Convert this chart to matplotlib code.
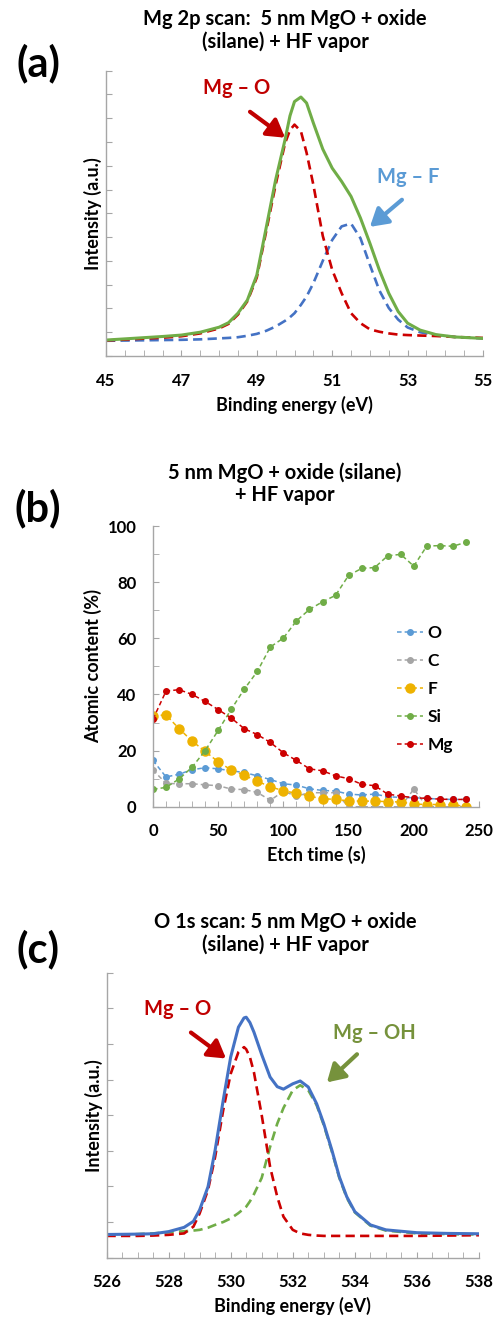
import matplotlib
matplotlib.use("Agg")
import matplotlib.pyplot as plt

plt.rcParams['font.family'] = ['Lato', 'DejaVu Sans']
plt.rcParams['font.weight'] = 'bold'
plt.rcParams['axes.labelweight'] = 'bold'

# ---- panel (a): Mg 2p scan ----
mg2p_energy = [45, 46, 46.5, 47, 47.5, 48, 48.25, 48.5, 48.75, 49.0, 49.25, 49.5,
               49.75, 49.88, 50.0, 50.17, 50.32, 50.5, 50.75, 51.0, 51.25, 51.5,
               51.75, 52.0, 52.25, 52.5, 52.75, 53.0, 53.33, 53.75, 54.25, 55]
mg2p_total = [0.67, 0.77, 0.82, 0.88, 1.0, 1.21, 1.4, 1.8, 2.35, 3.4, 5.4, 7.41,
              9.1, 10.1, 10.7, 10.89, 10.64, 9.8, 8.7, 7.9, 7.34, 6.71,
              5.8, 4.74, 3.62, 2.64, 1.87, 1.38, 1.09, 0.9, 0.8, 0.74]
mg2p_mgo = [0.65, 0.73, 0.77, 0.83, 0.95, 1.16, 1.35, 1.74, 2.3, 3.3, 5.25, 7.2,
            8.95, 9.5, 9.73, 9.45, 8.55, 7.2, 5.05, 3.62, 2.64, 1.8,
            1.38, 1.12, 1.02, 0.95, 0.9, 0.88, 0.86, 0.84, 0.8, 0.76]
mg2p_mgf = [0.64, 0.66, 0.67, 0.68, 0.70, 0.74, 0.76, 0.79, 0.85, 0.93, 1.06, 1.24,
            1.48, 1.63, 1.8, 2.15, 2.5, 3.06, 4.0, 4.88, 5.45, 5.57,
            4.95, 3.83, 2.76, 2.02, 1.53, 1.2, 1.0, 0.88, 0.8, 0.74]

# ---- panel (b): depth profile ----
etch_time = [0, 10, 20, 30, 40, 50, 60, 70, 80, 90, 100, 110, 120,
             130, 140, 150, 160, 170, 180, 190, 200, 210, 220, 230, 240]
o_pct = [16.5, 10.6, 11.6, 13.2, 13.9, 13.5, 12.8, 12.2, 11.0, 9.7, 8.2, 7.7, 6.4,
         5.8, 5.6, 4.5, 4.2, 4.5, 3.6, 3.3, 3.2, 3.0, 2.7, 2.6, 2.6]
c_pct = [13.1, 8.3, 8.2, 8.2, 7.8, 7.5, 6.3, 6.1, 5.1, 2.3, 5.5, 3.8, 5.0,
         5.0, 5.0, 0, 0, 0, 0, 0, 6.3, 0, 0, 0, 0]
f_pct = [32.4, 32.7, 27.8, 23.4, 19.7, 16.0, 13.1, 11.2, 9.1, 7.1, 5.7, 4.8, 3.7,
         2.9, 2.6, 2.1, 2.0, 2.0, 1.8, 1.7, 0.95, 0.8, 0.8, 0.8, 0.0]
si_pct = [6.2, 6.9, 9.9, 14.1, 20.0, 27.2, 34.7, 41.9, 48.2, 56.9, 60.1, 66.2, 70.3,
          73.0, 75.3, 82.4, 84.9, 85.2, 89.4, 89.9, 85.7, 92.9, 93.0, 92.8, 94.2]
mg_pct = [31.2, 41.2, 41.7, 40.0, 37.5, 34.6, 31.6, 27.8, 25.7, 22.9, 19.2, 16.5, 13.5,
          12.8, 11.0, 10.0, 8.0, 7.5, 4.5, 3.8, 3.2, 3.0, 2.7, 2.6, 2.6]

# ---- panel (c): O 1s scan ----
o1s_energy = [526, 527, 527.5, 528, 528.5, 528.8, 529, 529.27, 529.5, 529.76, 530,
              530.25, 530.43, 530.5, 530.62, 530.75, 531, 531.27, 531.5, 531.7, 532,
              532.24, 532.5, 532.77, 533, 533.26, 533.5, 533.74, 534, 534.5, 535,
              536, 537, 538]
o1s_total = [0.65, 0.66, 0.67, 0.73, 0.85, 1.02, 1.34, 1.99, 3.02, 4.42, 5.63,
             6.47, 6.73, 6.75, 6.6, 6.33, 5.7, 5.07, 4.8, 4.73, 4.88,
             4.96, 4.79, 4.32, 3.76, 3.02, 2.27, 1.71, 1.29, 0.92, 0.78,
             0.70, 0.68, 0.67]
o1s_mgo = [0.61, 0.61, 0.62, 0.64, 0.68, 0.87, 1.24, 1.9, 2.83, 4.14, 5.16,
           5.77, 5.91, 5.85, 5.63, 5.2, 4.0, 2.55, 1.71, 1.15, 0.78,
           0.68, 0.64, 0.62, 0.61, 0.61, 0.61, 0.61, 0.61, 0.61, 0.61,
           0.61, 0.62, 0.63]
o1s_mgoh = [0.63, 0.66, 0.68, 0.71, 0.74, 0.76, 0.78, 0.84, 0.92, 1.0, 1.10,
            1.25, 1.38, 1.43, 1.58, 1.78, 2.24, 3.11, 3.76, 4.2, 4.70,
            4.84, 4.70, 4.28, 3.72, 2.98, 2.24, 1.68, 1.27, 0.9, 0.76,
            0.68, 0.66, 0.65]

AXIS_GRAY = '#a6a6a6'
RED = '#c00000'
TICK_SIZE = 12
LABEL_SIZE = 13
TITLE_SIZE = 14.5
NOTE_SIZE = 14.5
PANEL_SIZE = 30


def style_axes(ax):
    for s in ['top', 'right']:
        ax.spines[s].set_visible(False)
    for s in ['left', 'bottom']:
        ax.spines[s].set_color(AXIS_GRAY)
        ax.spines[s].set_linewidth(1.0)
    ax.tick_params(which='both', direction='in', color=AXIS_GRAY, length=4,
                   labelsize=TICK_SIZE, pad=12)


def arrow(ax, start, tip, color):
    ax.annotate('', xy=tip, xytext=start,
                arrowprops=dict(arrowstyle='-|>,head_length=0.75,head_width=0.45',
                                color=color, lw=3, shrinkA=0, shrinkB=0,
                                mutation_scale=14))


fig = plt.figure(figsize=(5, 13.18), dpi=100)

# Panel a
ax1 = fig.add_axes([0.212, 0.7299, 0.754, 0.2165])
ax1.plot(mg2p_energy, mg2p_mgf, color='#4472c4', lw=1.9, ls=(0, (3.5, 2)))
ax1.plot(mg2p_energy, mg2p_mgo, color='#cc0000', lw=1.9, ls=(0, (3.5, 2)))
ax1.plot(mg2p_energy, mg2p_total, color='#70ad47', lw=2.2)
ax1.set_xlim(45, 55)
ax1.set_ylim(0, 12)
ax1.set_xticks([45, 47, 49, 51, 53, 55])
ax1.set_xticks([45 + 0.5 * i for i in range(21)], minor=True)
ax1.set_yticks(range(13))
ax1.set_yticklabels([])
style_axes(ax1)
ax1.set_xlabel('Binding energy (eV)', fontsize=LABEL_SIZE, labelpad=5)
ax1.set_ylabel('Intensity (a.u.)', fontsize=LABEL_SIZE)
ax1.yaxis.set_label_coords(-0.010, 0.5)
ax1.text(48.47, 11.28, 'Mg – O', color=RED, fontsize=NOTE_SIZE,
         fontweight='bold', ha='center', va='center')
arrow(ax1, (48.82, 10.27), (49.75, 9.18), RED)
ax1.text(53.01, 7.54, 'Mg – F', color='#5b9bd5', fontsize=NOTE_SIZE,
         fontweight='bold', ha='center', va='center')
arrow(ax1, (52.85, 6.57), (52.0, 5.43), '#5b9bd5')
fig.text(0.57, 0.9769, 'Mg 2p scan:  5 nm MgO + oxide\n(silane) + HF vapor',
         ha='center', va='center', fontsize=TITLE_SIZE, fontweight='bold',
         linespacing=1.15)
fig.text(0.076, 0.952, '(a)', ha='center', va='center', fontsize=PANEL_SIZE,
         fontweight='bold')

# Panel b
ax2 = fig.add_axes([0.306, 0.3879, 0.652, 0.213])
ms_small = 4
ax2.plot(etch_time, o_pct, ls=(0, (3, 2)), lw=1.1, color='#5b9bd5', marker='o',
         ms=ms_small, label='O')
ax2.plot(etch_time, c_pct, ls=(0, (3, 2)), lw=1.1, color='#a5a5a5', marker='o',
         ms=ms_small, label='C')
ax2.plot(etch_time, f_pct, ls=(0, (3, 2)), lw=1.1, color='#eeb200', marker='o',
         ms=6.5, label='F')
ax2.plot(etch_time, si_pct, ls=(0, (3, 2)), lw=1.1, color='#70ad47', marker='o',
         ms=ms_small, label='Si')
ax2.plot(etch_time, mg_pct, ls=(0, (3, 2)), lw=1.1, color='#cc0000', marker='o',
         ms=ms_small, label='Mg')
ax2.set_xlim(0, 250)
ax2.set_ylim(0, 100)
ax2.set_xticks([0, 50, 100, 150, 200, 250])
ax2.set_xticks(range(0, 251, 10), minor=True)
ax2.set_yticks([0, 20, 40, 60, 80, 100])
ax2.set_yticks(range(0, 101, 10), minor=True)
style_axes(ax2)
ax2.set_xlabel('Etch time (s)', fontsize=LABEL_SIZE, labelpad=5)
ax2.set_ylabel('Atomic content (%)', fontsize=LABEL_SIZE)
ax2.yaxis.set_label_coords(-0.156, 0.5)
ax2.legend(loc='upper left', bbox_to_anchor=(0.748, 0.646), frameon=False,
           borderpad=0, borderaxespad=0, prop={'size': 12.5, 'weight': 'bold'},
           handlelength=1.5, handletextpad=0.25, labelspacing=0.68)
fig.text(0.57, 0.6332, '5 nm MgO + oxide (silane)\n+ HF vapor',
         ha='center', va='center', fontsize=TITLE_SIZE, fontweight='bold',
         linespacing=1.15)
fig.text(0.076, 0.6146, '(b)', ha='center', va='center', fontsize=PANEL_SIZE,
         fontweight='bold')

# Panel c
ax3 = fig.add_axes([0.213, 0.0458, 0.745, 0.2162])
ax3.plot(o1s_energy, o1s_mgoh, color='#70ad47', lw=1.9, ls=(0, (3.5, 2)))
ax3.plot(o1s_energy, o1s_mgo, color='#cc0000', lw=1.9, ls=(0, (3.5, 2)))
ax3.plot(o1s_energy, o1s_total, color='#4472c4', lw=2.2)
ax3.set_xlim(526, 538)
ax3.set_ylim(0, 8)
ax3.set_xticks([526, 528, 530, 532, 534, 536, 538])
ax3.set_xticks([526 + 0.5 * i for i in range(25)], minor=True)
ax3.set_yticks(range(9))
ax3.set_yticklabels([])
style_axes(ax3)
ax3.set_xlabel('Binding energy (eV)', fontsize=LABEL_SIZE, labelpad=5)
ax3.set_ylabel('Intensity (a.u.)', fontsize=LABEL_SIZE)
ax3.yaxis.set_label_coords(-0.010, 0.5)
ax3.text(528.3, 6.99, 'Mg – O', color=RED, fontsize=NOTE_SIZE,
         fontweight='bold', ha='center', va='center')
arrow(ax3, (528.72, 6.32), (529.85, 5.59), RED)
ax3.text(534.62, 6.32, 'Mg – OH', color='#76923c', fontsize=NOTE_SIZE,
         fontweight='bold', ha='center', va='center')
arrow(ax3, (534.07, 5.71), (533.1, 4.92), '#76923c')
fig.text(0.57, 0.2917, 'O 1s scan: 5 nm MgO + oxide\n(silane) + HF vapor',
         ha='center', va='center', fontsize=TITLE_SIZE, fontweight='bold',
         linespacing=1.15)
fig.text(0.075, 0.280, '(c)', ha='center', va='center', fontsize=PANEL_SIZE,
         fontweight='bold')

fig.savefig('out.png', dpi=100)
